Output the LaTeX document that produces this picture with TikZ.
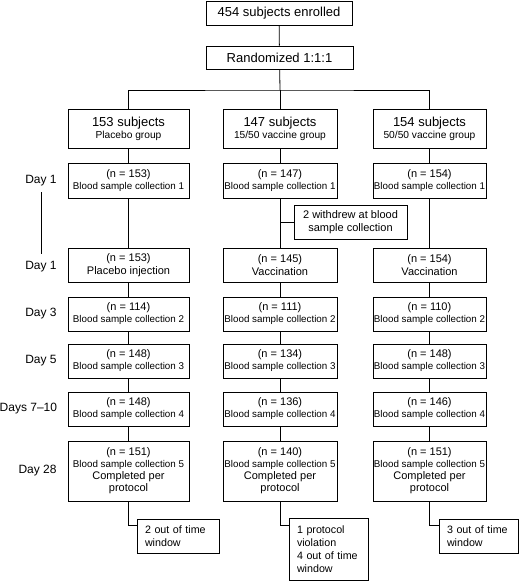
\documentclass[tikz,border=0pt]{standalone}
\usepackage{fontspec}
\setmainfont{Liberation Sans}
\newcommand{\fhead}{\fontsize{13}{15}\selectfont}
\newcommand{\fmid}{\fontsize{11}{13}\selectfont}
\newcommand{\fsml}{\fontsize{9.8}{13}\selectfont}
\newcommand{\fgrp}{\fontsize{10.2}{15}\selectfont}
\newcommand{\fside}{\fontsize{10.7}{13}\selectfont}
\tikzset{
  box/.style={draw, line width=0.8pt, inner sep=0pt, align=center},
  acol/.style={box, minimum width=121pt},
  bcol/.style={box, minimum width=114pt},
  ccol/.style={box, minimum width=113pt},
  sidebox/.style={draw, line width=0.8pt, inner ysep=0pt, inner xsep=8pt, align=left, font=\fside},
  daylbl/.style={anchor=east, inner sep=0pt, font=\fontsize{12}{14}\selectfont}
}
\begin{document}
\begin{tikzpicture}[x=1pt, y=-1pt, line width=0.8pt]
  \useasboundingbox (0,0) rectangle (520,581);
  \node[box, minimum width=146pt, minimum height=24pt, font=\fhead] (enr) at (279,13) {454 subjects enrolled};
  \node[box, minimum width=147pt, minimum height=23pt, font=\fhead] (rand) at (279.5,57.5) {Randomized 1:1:1};
  \coordinate (split) at (280,90);

  % groups
  \node[acol, minimum height=39pt] (a0) at (128.5,128.5) {{\fhead 153 subjects}\\{\fgrp Placebo group}};
  \node[bcol, minimum height=39pt] (b0) at (280,128.5) {{\fhead 147 subjects}\\{\fgrp 15/50 vaccine group}};
  \node[ccol, minimum height=39pt] (c0) at (429.5,128.5) {{\fhead 154 subjects}\\{\fgrp 50/50 vaccine group}};

  % day 1, blood sample 1
  \node[acol, minimum height=35pt] (a1) at (128.5,180.5) {{\fmid (n = 153)}\\{\fsml Blood sample collection 1}};
  \node[bcol, minimum height=35pt] (b1) at (280,180.5) {{\fmid (n = 147)}\\{\fsml Blood sample collection 1}};
  \node[ccol, minimum height=35pt] (c1) at (429.5,180.5) {{\fmid (n = 154)}\\{\fsml Blood sample collection 1}};

  \node[box, minimum width=113pt, minimum height=34pt, font=\fmid] (wd) at (350.5,222) {2 withdrew at blood\\sample collection};

  % day 1, injection
  \node[acol, minimum height=34pt, font=\fmid] (a2) at (128.5,265) {(n = 153)\\Placebo injection};
  \node[bcol, minimum height=34pt, font=\fmid] (b2) at (280,265) {(n = 145)\\Vaccination};
  \node[ccol, minimum height=34pt, font=\fmid] (c2) at (429.5,265) {(n = 154)\\Vaccination};

  % day 3
  \node[acol, minimum height=34pt] (a3) at (128.5,314) {{\fmid (n = 114)}\\{\fsml Blood sample collection 2}};
  \node[bcol, minimum height=34pt] (b3) at (280,314) {{\fmid (n = 111)}\\{\fsml Blood sample collection 2}};
  \node[ccol, minimum height=34pt] (c3) at (429.5,314) {{\fmid (n = 110)}\\{\fsml Blood sample collection 2}};

  % day 5
  \node[acol, minimum height=34pt] (a4) at (128.5,361) {{\fmid (n = 148)}\\{\fsml Blood sample collection 3}};
  \node[bcol, minimum height=34pt] (b4) at (280,361) {{\fmid (n = 134)}\\{\fsml Blood sample collection 3}};
  \node[ccol, minimum height=34pt] (c4) at (429.5,361) {{\fmid (n = 148)}\\{\fsml Blood sample collection 3}};

  % days 7-10
  \node[acol, minimum height=34pt] (a5) at (128.5,409) {{\fmid (n = 148)}\\{\fsml Blood sample collection 4}};
  \node[bcol, minimum height=34pt] (b5) at (280,409) {{\fmid (n = 136)}\\{\fsml Blood sample collection 4}};
  \node[ccol, minimum height=34pt] (c5) at (429.5,409) {{\fmid (n = 146)}\\{\fsml Blood sample collection 4}};

  % day 28
  \node[acol, minimum height=60pt] (a6) at (128.5,471) {{\fmid (n = 151)}\\{\fsml Blood sample collection 5}\\{\fmid Completed per}\\{\fmid protocol}};
  \node[bcol, minimum height=60pt] (b6) at (280,471) {{\fmid (n = 140)}\\{\fsml Blood sample collection 5}\\{\fmid Completed per}\\{\fmid protocol}};
  \node[ccol, minimum height=60pt] (c6) at (429.5,471) {{\fmid (n = 151)}\\{\fsml Blood sample collection 5}\\{\fmid Completed per}\\{\fmid protocol}};

  % dropouts
  \node[sidebox, text width=66pt, minimum height=34pt] (ax) at (178,536) {2 out of time\\window};
  \node[sidebox, text width=63pt, minimum height=62pt] (bx) at (328.5,549) {1 protocol\\violation\\4 out of time\\window};
  \node[sidebox, text width=63pt, minimum height=34pt] (cx) at (478.5,536) {3 out of time\\window};

  % day labels
  \node[daylbl] (d1) at (57,181) {Day 1};
  \node[daylbl] (d1b) at (57,267) {Day 1};
  \node[daylbl] (d3) at (57,314) {Day 3};
  \node[daylbl] (d5) at (57,361) {Day 5};
  \node[daylbl] (d7) at (57.5,409) {Days 7--10};
  \node[daylbl] (d28) at (57,471) {Day 28};
  \draw ([yshift=-5.5pt]d1.south) -- ([yshift=7pt]d1b.north);

  \draw (enr) -- (rand);
  \draw (rand) -- (split);
  \draw (a0.north) |- (split) -| (c0.north);
  \draw (split) -- (b0.north);
  \foreach \c in {a,b,c} {
    \foreach \i/\j in {0/1,1/2,2/3,3/4,4/5,5/6}
      \draw (\c\i) -- (\c\j);
  }
  \draw (wd.west) -- (wd.west -| b1.south);
  \draw (a6.south) |- ([yshift=-7pt]ax.north west);
  \draw (b6.south) |- ([yshift=-8pt]bx.north west);
  \draw (c6.south) |- ([yshift=-7pt]cx.north west);
\end{tikzpicture}
\end{document}
